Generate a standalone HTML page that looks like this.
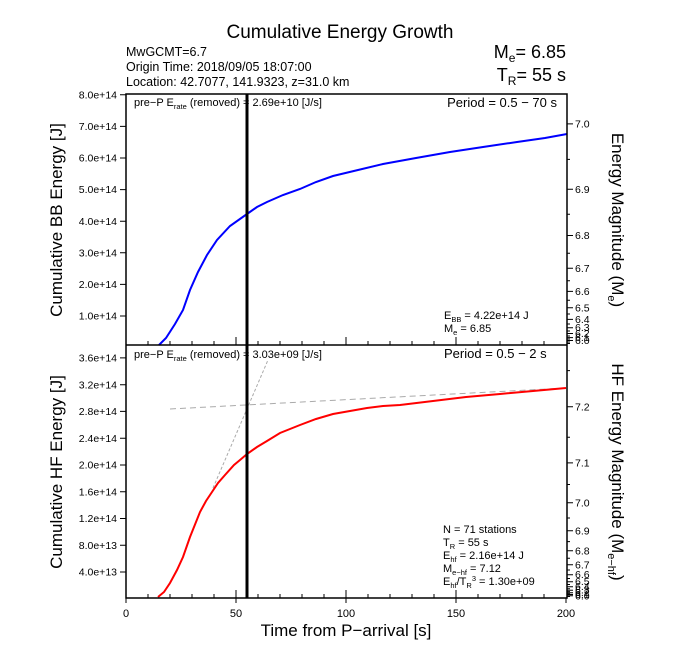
<!DOCTYPE html>
<html><head><meta charset="utf-8"><style>
html,body{margin:0;padding:0;background:#fff;}
svg{display:block;font-family:"Liberation Sans",sans-serif;}
</style></head><body>
<svg width="680" height="660" viewBox="0 0 680 660" xmlns="http://www.w3.org/2000/svg">
<text x="340" y="38" font-size="19" text-anchor="middle">Cumulative Energy Growth</text>
<g font-size="12.5" fill="#000">
<text x="126" y="56">MwGCMT=6.7</text>
<text x="126" y="71">Origin Time: 2018/09/05 18:07:00</text>
<text x="126" y="86">Location: 42.7077, 141.9323, z=31.0 km</text>
</g>
<text x="566" y="58" font-size="18" text-anchor="end">M<tspan font-size="12" dy="4">e</tspan><tspan dy="-4">= 6.85</tspan></text>
<text x="566" y="81" font-size="18" text-anchor="end">T<tspan font-size="12" dy="4">R</tspan><tspan dy="-4">= 55 s</tspan></text>

<!-- curves -->
<polyline fill="none" stroke="#0000ff" stroke-width="2" points="159,345 166,338 175,324 183,310 190,290 198,272 207,255 217,240 230,226 247,214 257,207 267,202 283,195 300,189 316,182 333,176 358,170 383,164 416,158 450,152 483,147 517,142 545,138 567,134"/>
<line x1="170" y1="409" x2="566" y2="388" stroke="#aaa" stroke-width="1" stroke-dasharray="6,4"/>
<line x1="213" y1="488" x2="268" y2="360" stroke="#aaa" stroke-width="1" stroke-dasharray="3,2"/>
<polyline fill="none" stroke="#ff0000" stroke-width="2" points="158,597 164,592 170,583 177,570 183,557 190,537 200,512 206,501 212,492 218,483 225,475 234,465 240,460 247,454 257,447 267,441 280,433 300,425 316,419 333,414 350,411 367,408 383,406 400,405 433,401 466,397 500,394 533,391 566,388"/>
<line x1="247" y1="94" x2="247" y2="598" stroke="#000" stroke-width="3"/>

<!-- frames -->
<rect x="126" y="94" width="441" height="504" fill="none" stroke="#000" stroke-width="1.5"/>
<line x1="126" y1="345" x2="567" y2="345" stroke="#000" stroke-width="1.5"/>

<!-- x ticks -->
<g stroke="#000" stroke-width="1">
<path d="M148,598v-4M170,598v-4M192,598v-4M214,598v-4M258,598v-4M280,598v-4M302,598v-4M324,598v-4M368,598v-4M390,598v-4M412,598v-4M434,598v-4M478,598v-4M500,598v-4M522,598v-4M544,598v-4"/>
<path d="M126,598v5M236,598v5M346,598v5M456,598v5M566,598v5M126,598v-8M236,598v-8M346,598v-8M456,598v-8"/>
<path d="M148,345v-4M170,345v-4M192,345v-4M214,345v-4M258,345v-4M280,345v-4M302,345v-4M324,345v-4M368,345v-4M390,345v-4M412,345v-4M434,345v-4M478,345v-4M500,345v-4M522,345v-4M544,345v-4M236,345v-8M346,345v-8M456,345v-8"/>
</g>
<g font-size="11" text-anchor="middle">
<text x="126" y="617">0</text><text x="236" y="617">50</text><text x="346" y="617">100</text><text x="456" y="617">150</text><text x="566" y="617">200</text>
</g>
<text x="346" y="636" font-size="17" text-anchor="middle">Time from P−arrival [s]</text>

<!-- left ticks top -->
<g stroke="#000"><path d="M120,94.8h6M120,126.4h6M120,158h6M120,189.6h6M120,221.2h6M120,252.8h6M120,284.4h6M120,316h6"/></g>
<g font-size="10.5" text-anchor="end">
<text x="117" y="98.5">8.0e+14</text><text x="117" y="130">7.0e+14</text><text x="117" y="161.5">6.0e+14</text><text x="117" y="193">5.0e+14</text><text x="117" y="225">4.0e+14</text><text x="117" y="256.5">3.0e+14</text><text x="117" y="288">2.0e+14</text><text x="117" y="319.5">1.0e+14</text>
</g>
<!-- left ticks bottom -->
<g stroke="#000"><path d="M120,357.9h6M120,384.7h6M120,411.4h6M120,438.2h6M120,465h6M120,491.7h6M120,518.5h6M120,545.2h6M120,572h6"/></g>
<g font-size="10.5" text-anchor="end">
<text x="117" y="361.5">3.6e+14</text><text x="117" y="388.5">3.2e+14</text><text x="117" y="415">2.8e+14</text><text x="117" y="442">2.4e+14</text><text x="117" y="468.5">2.0e+14</text><text x="117" y="495.5">1.6e+14</text><text x="117" y="522">1.2e+14</text><text x="117" y="549">8.0e+13</text><text x="117" y="575.5">4.0e+13</text>
</g>
<text transform="translate(62,220) rotate(-90)" font-size="17" text-anchor="middle">Cumulative BB Energy [J]</text>
<text transform="translate(62,472) rotate(-90)" font-size="17" text-anchor="middle">Cumulative HF Energy [J]</text>

<!-- right ticks top -->
<g stroke="#000">
<path d="M567,123.9h6M567,189.2h6M567,235.5h6M567,268.2h6M567,291.4h6M567,307.8h6M567,319.4h6M567,327.7h6M567,333.5h6M567,337.6h6M567,340.5h6"/>
<path d="M567,159.4h3M567,214.3h3M567,253.3h3M567,280.8h3M567,300.3h3M567,314h3M567,324h3M567,331h3M567,336h3M567,339h3M567,342h3M567,343.5h3"/>
</g>
<g font-size="10.5">
<text x="575" y="127.5">7.0</text><text x="575" y="193">6.9</text><text x="575" y="239">6.8</text><text x="575" y="272">6.7</text><text x="575" y="295">6.6</text><text x="575" y="311.5">6.5</text><text x="575" y="323">6.4</text><text x="575" y="331">6.3</text><text x="575" y="337">6.2</text><text x="575" y="341">6.1</text><text x="575" y="344">6.0</text>
</g>
<!-- right ticks bottom -->
<g stroke="#000">
<path d="M567,406.8h6M567,462.9h6M567,502.7h6M567,530.8h6M567,550.7h6M567,564.8h6M567,574.7h6M567,581.8h6M567,586.7h6M567,590.3h6M567,592.7h6M567,594.5h6M567,595.7h6"/>
<path d="M567,370.6h3M567,437.2h3M567,484.5h3M567,518h3M567,541.6h3M567,558.3h3M567,570h3M567,578.5h3M567,584.5h3M567,588.8h3M567,591.6h3M567,593.7h3M567,596.5h3"/>
</g>
<g font-size="10.5">
<text x="575" y="410.5">7.2</text><text x="575" y="466.5">7.1</text><text x="575" y="506.5">7.0</text><text x="575" y="534.5">6.9</text><text x="575" y="554.5">6.8</text><text x="575" y="568.5">6.7</text><text x="575" y="578">6.6</text><text x="575" y="585">6.5</text><text x="575" y="590">6.4</text><text x="575" y="593.5">6.3</text><text x="575" y="596">6.2</text><text x="575" y="598">6.1</text><text x="575" y="599.5">6.0</text>
</g>
<text transform="translate(612,220) rotate(90)" font-size="17" text-anchor="middle">Energy Magnitude (M<tspan font-size="11" dy="4">e</tspan><tspan dy="-4">)</tspan></text>
<text transform="translate(612,472) rotate(90)" font-size="17" text-anchor="middle">HF Energy Magnitude (M<tspan font-size="11" dy="4">e−hf</tspan><tspan dy="-4">)</tspan></text>

<!-- annotations top -->
<text x="134" y="106" font-size="11">pre−P E<tspan font-size="7.5" dy="3">rate</tspan><tspan dy="-3"> (removed) = 2.69e+10 [J/s]</tspan></text>
<text x="557" y="107" font-size="13" text-anchor="end">Period = 0.5 − 70 s</text>
<text x="444" y="319" font-size="11">E<tspan font-size="7.5" dy="3">BB</tspan><tspan dy="-3"> = 4.22e+14 J</tspan></text>
<text x="444" y="332" font-size="11">M<tspan font-size="7.5" dy="3">e</tspan><tspan dy="-3"> = 6.85</tspan></text>
<!-- annotations bottom -->
<text x="134" y="358" font-size="11">pre−P E<tspan font-size="7.5" dy="3">rate</tspan><tspan dy="-3"> (removed) = 3.03e+09 [J/s]</tspan></text>
<text x="444" y="358" font-size="13">Period = 0.5 − 2 s</text>
<g font-size="11">
<text x="443" y="533">N = 71 stations</text>
<text x="443" y="546">T<tspan font-size="7.5" dy="3">R</tspan><tspan dy="-3"> = 55  s</tspan></text>
<text x="443" y="559">E<tspan font-size="7.5" dy="3">hf</tspan><tspan dy="-3"> = 2.16e+14 J</tspan></text>
<text x="443" y="572">M<tspan font-size="7.5" dy="3">e−hf</tspan><tspan dy="-3"> = 7.12</tspan></text>
<text x="443" y="585">E<tspan font-size="7.5" dy="3">hf</tspan><tspan dy="-3">/T</tspan><tspan font-size="7.5" dy="3">R</tspan><tspan font-size="7.5" dy="-7">3</tspan><tspan dy="4"> =  1.30e+09</tspan></text>
</g>
</svg>
</body></html>
